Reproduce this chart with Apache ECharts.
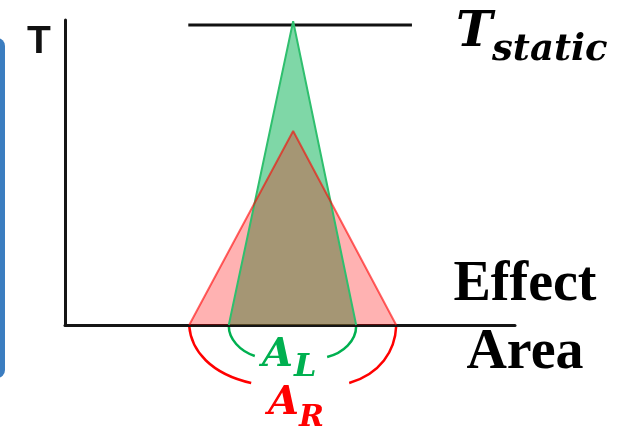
<!DOCTYPE html>
<html><head><meta charset="utf-8">
<script src="https://cdn.jsdelivr.net/npm/echarts@6/dist/echarts.min.js"></script>
<style>html,body{margin:0;padding:0;background:#fff}#c{width:627px;height:432px}</style>
</head><body><div id="c"></div>
<script>
// Data (arbitrary units, x: 0..100, y: 0..100)
const greenX = [36.4, 50.7, 64.7];
const greenY = [0, 99.6, 0];
const redX = [27.6, 50.7, 73.6];
const redY = [0, 63.6, 0];
const staticX = [27.4, 77.1];
const staticY = [98.4, 98.4];
const axisName = 'T';
const staticMain = 'T';
const staticSub = 'static';
const xName = ['Effect', 'Area'];
const labelL = ['A', 'L'];
const labelR = ['A', 'R'];

const zip = (xs, ys) => xs.map((x, i) => [x, ys[i]]);
const chart = echarts.init(document.getElementById('c'), null, {renderer: 'canvas'});
const axisCommon = {
  type: 'value', min: 0, max: 100,
  axisLine: {show: true, onZero: true, lineStyle: {color: '#151515', width: 3}},
  axisTick: {show: false}, axisLabel: {show: false}, splitLine: {show: false}
};
chart.setOption({
  animation: false,
  backgroundColor: '#fff',
  grid: {left: 65, right: 112, top: 20, bottom: 107},
  xAxis: axisCommon,
  yAxis: axisCommon,
  series: [
    {type: 'line', data: zip(staticX, staticY), symbol: 'none',
     lineStyle: {color: '#111', width: 3}},
    {type: 'line', data: zip(greenX, greenY), symbol: 'none',
     lineStyle: {color: '#2fbf6e', width: 2},
     areaStyle: {color: 'rgba(0,176,80,0.5)', origin: 'start', opacity: 1}},
    {type: 'line', data: zip(redX, redY), symbol: 'none',
     lineStyle: {color: 'rgba(255,0,0,0.6)', width: 2},
     areaStyle: {color: 'rgba(255,0,0,0.3)', origin: 'start', opacity: 1}}
  ]
});

const p = (x, y) => chart.convertToPixel({gridIndex: 0}, [x, y]);
const gL = p(greenX[0], 0), gR = p(greenX[2], 0), rL = p(redX[0], 0), rR = p(redX[2], 0);
const curve = (a, d1x, d1y, d2x, d2y, ex, ey, color) => ({
  type: 'bezierCurve',
  shape: {x1: a[0], y1: a[1] + 1, cpx1: a[0] + d1x, cpy1: a[1] + d1y,
          cpx2: a[0] + d2x, cpy2: a[1] + d2y, x2: a[0] + ex, y2: a[1] + ey},
  style: {stroke: color, lineWidth: 2.5, fill: null}
});
const txt = (t, x, y, font, fill, align) => ({
  type: 'text', x: x, y: y,
  style: {text: t, font: font, fill: fill, align: align || 'left', verticalAlign: 'middle'}
});
const mathFont = (s) => 'italic bold ' + s + 'px "DejaVu Serif"';
chart.setOption({
  graphic: [
    {type: 'rect', shape: {x: -20, y: 38, width: 25, height: 340, r: 8}, style: {fill: '#3b7dc0'}},
    curve(gL, 0, 14, 11, 26, 26, 31, '#00b050'),
    curve(gR, 0, 16, -13, 28, -29, 32, '#00b050'),
    curve(rL, 2, 26, 22, 49, 62, 58, '#ff0000'),
    curve(rR, -1, 26, -16, 49, -47, 58, '#ff0000'),
    txt(axisName, 27, 42, 'bold 39px "Liberation Sans"', '#111'),
    txt(staticMain, 456, 33, mathFont(49), '#000'),
    txt(staticSub, 492, 50, mathFont(37), '#000'),
    txt(xName[0], 525, 286, 'bold 56px "Liberation Serif"', '#000', 'center'),
    txt(xName[1], 525, 354, 'bold 56px "Liberation Serif"', '#000', 'center'),
    txt(labelL[0], 262, 356, mathFont(40), '#00b050'),
    txt(labelL[1], 294, 368, mathFont(32), '#00b050'),
    txt(labelR[0], 268, 404, mathFont(40), '#ff0000'),
    txt(labelR[1], 299, 418, mathFont(30), '#ff0000')
  ]
});
</script></body></html>
